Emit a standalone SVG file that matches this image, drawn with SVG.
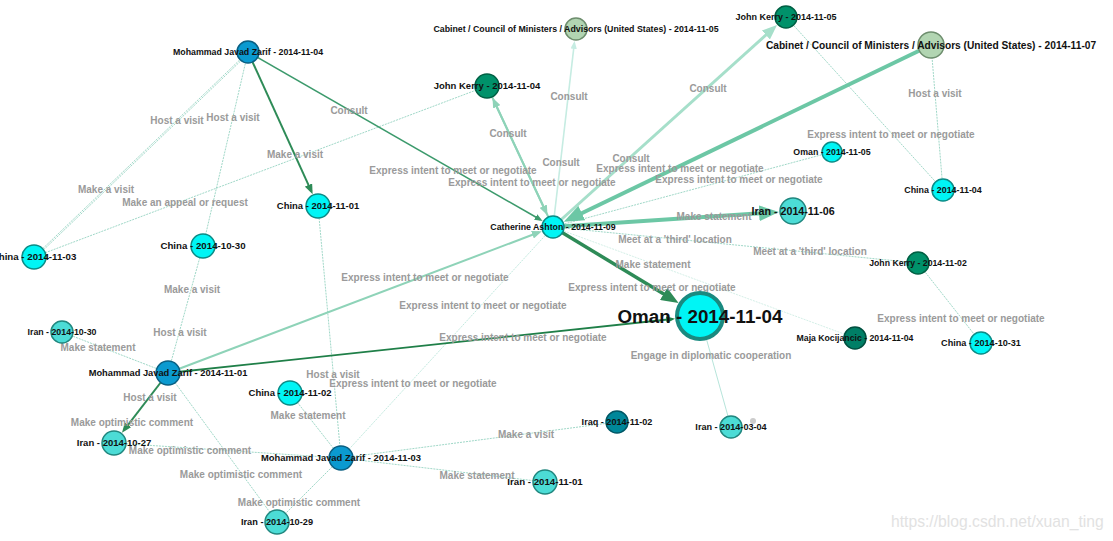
<svg xmlns="http://www.w3.org/2000/svg" width="1113" height="541" viewBox="0 0 1113 541">
<style>
.nl{font-family:"Liberation Sans",Arial,sans-serif;font-weight:bold;fill:#111;text-anchor:middle}
.el{font-family:"Liberation Sans",Arial,sans-serif;font-weight:bold;font-size:10px;fill:#9a9a9a;text-anchor:middle}
.thin{stroke:#86cdb9;stroke-width:0.8;stroke-dasharray:2 1;fill:none}
.e{fill:none}
.cyan{fill:#00f5f5;stroke:#0b8b86;stroke-width:1.5}
.turq{fill:#4cdcd6;stroke:#21877f;stroke-width:1.5}
.blue{fill:#0b9ad0;stroke:#0a5f82;stroke-width:1.5}
.jk{fill:#00916a;stroke:#005f43;stroke-width:1.5}
.cab{fill:#b2d5b2;stroke:#6e8e6e;stroke-width:1.5}
.maja{fill:#007f66;stroke:#004f3f;stroke-width:1.5}
.iraq{fill:#00879a;stroke:#005766;stroke-width:1.5}
</style>
<defs>
<marker id="m1" viewBox="0 0 10 8" refX="7" refY="4" markerWidth="5" markerHeight="4" markerUnits="strokeWidth" orient="auto"><path d="M0,0L10,4L0,8z" fill="#2e8b57"/></marker>
<marker id="m2" viewBox="0 0 10 8" refX="7" refY="4" markerWidth="5" markerHeight="4" markerUnits="strokeWidth" orient="auto"><path d="M0,0L10,4L0,8z" fill="#3c9a6c"/></marker>
<marker id="m3" viewBox="0 0 10 8" refX="7" refY="4" markerWidth="5" markerHeight="4" markerUnits="strokeWidth" orient="auto"><path d="M0,0L10,4L0,8z" fill="#8ed3b8"/></marker>
<marker id="m4" viewBox="0 0 10 8" refX="7" refY="4" markerWidth="5" markerHeight="4" markerUnits="strokeWidth" orient="auto"><path d="M0,0L10,4L0,8z" fill="#c6ece2"/></marker>
<marker id="m5" viewBox="0 0 10 8" refX="7" refY="4" markerWidth="5" markerHeight="4" markerUnits="strokeWidth" orient="auto"><path d="M0,0L10,4L0,8z" fill="#a6dfca"/></marker>
<marker id="m6" viewBox="0 0 10 8" refX="7" refY="4" markerWidth="5" markerHeight="4" markerUnits="strokeWidth" orient="auto"><path d="M0,0L10,4L0,8z" fill="#6cc7a5"/></marker>
<marker id="m8" viewBox="0 0 10 8" refX="7" refY="4" markerWidth="5" markerHeight="4" markerUnits="strokeWidth" orient="auto"><path d="M0,0L10,4L0,8z" fill="#1f7f48"/></marker>
</defs>
<rect width="1113" height="541" fill="#ffffff"/>
<g id="connectors">
<line class="thin" x1="248" y1="52" x2="34" y2="257"/>
<line class="thin" x1="249" y1="53" x2="35" y2="258"/>
<line class="thin" x1="248" y1="52" x2="203" y2="246"/>
<line class="thin" x1="203" y1="246" x2="168" y2="373"/>
<line class="thin" x1="34" y1="257" x2="487" y2="86"/>
<line class="thin" x1="553" y1="227" x2="832" y2="152"/>
<line class="thin" x1="786" y1="17" x2="943" y2="190"/>
<line class="thin" x1="931" y1="45" x2="943" y2="190"/>
<line class="thin" x1="553" y1="227" x2="918" y2="263"/>
<line class="thin" x1="553" y1="227" x2="855" y2="338" style="stroke:#c9ebe1"/>
<line class="thin" x1="918" y1="263" x2="981" y2="343"/>
<line class="thin" x1="700" y1="316" x2="731" y2="427" style="stroke-dasharray:none;stroke:#a3ddd0"/>
<line class="thin" x1="341" y1="458" x2="553" y2="227" style="stroke:#b3e3d6"/>
<line class="thin" x1="318" y1="206" x2="341" y2="458"/>
<line class="thin" x1="341" y1="458" x2="290" y2="393"/>
<line class="thin" x1="62" y1="332" x2="168" y2="373"/>
<line class="thin" x1="114" y1="443" x2="341" y2="458"/>
<line class="thin" x1="168" y1="373" x2="277" y2="522"/>
<line class="thin" x1="341" y1="458" x2="277" y2="522"/>
<line class="thin" x1="341" y1="458" x2="617" y2="422"/>
<line class="thin" x1="341" y1="458" x2="545" y2="482"/>
<line class="e" x1="248" y1="52" x2="311.4" y2="191.4" stroke="#2e8b57" stroke-width="2" marker-end="url(#m1)"/>
<line class="e" x1="248" y1="52" x2="540.5" y2="219.8" stroke="#3c9a6c" stroke-width="1.6" marker-end="url(#m2)"/>
<line class="e" x1="553" y1="227" x2="493.8" y2="100.5" stroke="#8ed3b8" stroke-width="2" marker-end="url(#m3)"/>
<line class="e" x1="487" y1="86" x2="546.2" y2="212.5" stroke="#8ed3b8" stroke-width="2" marker-end="url(#m3)"/>
<line class="e" x1="553" y1="227" x2="574.3" y2="43.3" stroke="#c6ece2" stroke-width="1.6" marker-end="url(#m4)"/>
<line class="e" x1="553" y1="227" x2="773.7" y2="28" stroke="#a6dfca" stroke-width="3" marker-end="url(#m5)"/>
<line class="e" x1="931" y1="45" x2="569.2" y2="219.2" stroke="#6cc7a5" stroke-width="4" marker-end="url(#m6)"/>
<line class="e" x1="553" y1="227" x2="773" y2="212.3" stroke="#6cc7a5" stroke-width="4" marker-end="url(#m6)"/>
<line class="e" x1="553" y1="227" x2="674.1" y2="300.3" stroke="#2e8b57" stroke-width="3.5" marker-end="url(#m1)"/>
<line class="e" x1="168" y1="373" x2="539" y2="232.3" stroke="#8ed3b8" stroke-width="2" marker-end="url(#m3)"/>
<line class="e" x1="168" y1="373" x2="672.5" y2="319" stroke="#1f7f48" stroke-width="1.8" marker-end="url(#m8)"/>
<line class="e" x1="168" y1="373" x2="123.8" y2="430.3" stroke="#2e8b57" stroke-width="2" marker-end="url(#m1)"/>
<text class="el" x="177" y="123.5">Host a visit</text>
<text class="el" x="106" y="192.5">Make a visit</text>
<text class="el" x="233" y="120.5">Host a visit</text>
<text class="el" x="192" y="292.5">Make a visit</text>
<text class="el" x="180" y="335.5">Host a visit</text>
<text class="el" x="185" y="205.5">Make an appeal or request</text>
<text class="el" x="295" y="157.5">Make a visit</text>
<text class="el" x="349" y="113.5">Consult</text>
<text class="el" x="453" y="173.5">Express intent to meet or negotiate</text>
<text class="el" x="508" y="136.5">Consult</text>
<text class="el" x="532" y="185.5">Express intent to meet or negotiate</text>
<text class="el" x="569" y="99.5">Consult</text>
<text class="el" x="561" y="165.5">Consult</text>
<text class="el" x="708" y="91.5">Consult</text>
<text class="el" x="631" y="161.5">Consult</text>
<text class="el" x="680" y="171.5">Express intent to meet or negotiate</text>
<text class="el" x="739" y="182.5">Express intent to meet or negotiate</text>
<text class="el" x="891" y="137.5">Express intent to meet or negotiate</text>
<text class="el" x="935" y="96.5">Host a visit</text>
<text class="el" x="714" y="219.5">Make statement</text>
<text class="el" x="675" y="242.5">Meet at a 'third' location</text>
<text class="el" x="810" y="254.5">Meet at a 'third' location</text>
<text class="el" x="653" y="267.5">Make statement</text>
<text class="el" x="652" y="290.5">Express intent to meet or negotiate</text>
<text class="el" x="961" y="321.5">Express intent to meet or negotiate</text>
<text class="el" x="711" y="358.5">Engage in diplomatic cooperation</text>
<text class="el" x="425" y="280.5">Express intent to meet or negotiate</text>
<text class="el" x="483" y="308.5">Express intent to meet or negotiate</text>
<text class="el" x="413" y="386.5">Express intent to meet or negotiate</text>
<text class="el" x="523" y="340.5">Express intent to meet or negotiate</text>
<text class="el" x="333" y="377.5">Host a visit</text>
<text class="el" x="308" y="418.5">Make statement</text>
<text class="el" x="98" y="350.5">Make statement</text>
<text class="el" x="150" y="400.5">Host a visit</text>
<text class="el" x="132" y="425.5">Make optimistic comment</text>
<text class="el" x="190" y="453.5">Make optimistic comment</text>
<text class="el" x="241" y="477.5">Make optimistic comment</text>
<text class="el" x="299" y="505.5">Make optimistic comment</text>
<text class="el" x="526" y="437.5">Make a visit</text>
<text class="el" x="477" y="478.5">Make statement</text>
</g>
<g id="n-mjz1104"><circle class="blue" cx="248" cy="52" r="11"/><text class="nl" x="248" y="55" font-size="8.8">Mohammad Javad Zarif - 2014-11-04</text></g>
<g id="n-jk1104"><circle class="jk" cx="487" cy="86" r="12"/><text class="nl" x="487" y="89.3" font-size="9.5">John Kerry - 2014-11-04</text></g>
<g id="n-cab1105"><circle class="cab" cx="576" cy="29" r="11"/><text class="nl" x="576" y="32" font-size="8.8">Cabinet / Council of Ministers / Advisors (United States) - 2014-11-05</text></g>
<g id="n-jk1105"><circle class="jk" cx="786" cy="17" r="11"/><text class="nl" x="786" y="20.2" font-size="9">John Kerry - 2014-11-05</text></g>
<g id="n-cab1107"><circle class="cab" cx="931" cy="45" r="13"/><text class="nl" x="931" y="48.6" font-size="10.2">Cabinet / Council of Ministers / Advisors (United States) - 2014-11-07</text></g>
<g id="n-ca1109"><circle class="cyan" cx="553" cy="227" r="11"/><text class="nl" x="553" y="230" font-size="8.8">Catherine Ashton - 2014-11-09</text></g>
<g id="n-oman1105"><circle class="cyan" cx="832" cy="152" r="10"/><text class="nl" x="832" y="155" font-size="8.8">Oman - 2014-11-05</text></g>
<g id="n-china1104"><circle class="cyan" cx="943" cy="190" r="11"/><text class="nl" x="943" y="193" font-size="8.9">China - 2014-11-04</text></g>
<g id="n-iran1106"><circle class="turq" cx="793" cy="211" r="13"/><text class="nl" x="793" y="214.8" font-size="10.7">Iran - 2014-11-06</text></g>
<g id="n-jk1102"><circle class="jk" cx="918" cy="263" r="11"/><text class="nl" x="918" y="266" font-size="8.7">John Kerry - 2014-11-02</text></g>
<g id="n-oman1104"><circle class="cyan" cx="700" cy="316" r="23" style="stroke:#1a8a80;stroke-width:4"/><text class="nl" x="700" y="323" font-size="18.8">Oman - 2014-11-04</text></g>
<g id="n-maja1104"><circle class="maja" cx="855" cy="338" r="11"/><text class="nl" x="855" y="341" font-size="8.7">Maja Kocijancic - 2014-11-04</text></g>
<g id="n-china1031"><circle class="cyan" cx="981" cy="343" r="11"/><text class="nl" x="981" y="346.2" font-size="9.1">China - 2014-10-31</text></g>
<g id="n-iran0304"><circle class="turq" cx="731" cy="427" r="11"/><text class="nl" x="731" y="430.2" font-size="9.1">Iran - 2014-03-04</text></g>
<g id="n-dot"><circle cx="753" cy="421" r="3" fill="#cccccc"/></g>
<g id="n-iraq1102"><circle class="iraq" cx="617" cy="422" r="11"/><text class="nl" x="617" y="425.2" font-size="9.1">Iraq - 2014-11-02</text></g>
<g id="n-iran1101"><circle class="turq" cx="545" cy="482" r="12"/><text class="nl" x="545" y="485.4" font-size="9.7">Iran - 2014-11-01</text></g>
<g id="n-mjz1103"><circle class="blue" cx="341" cy="458" r="12"/><text class="nl" x="341" y="461.3" font-size="9.4">Mohammad Javad Zarif - 2014-11-03</text></g>
<g id="n-iran1029"><circle class="turq" cx="277" cy="522" r="12"/><text class="nl" x="277" y="525.2" font-size="9.2">Iran - 2014-10-29</text></g>
<g id="n-china1102"><circle class="cyan" cx="290" cy="393" r="12"/><text class="nl" x="290" y="396.3" font-size="9.5">China - 2014-11-02</text></g>
<g id="n-iran1027"><circle class="turq" cx="114" cy="443" r="12"/><text class="nl" x="114" y="446.3" font-size="9.5">Iran - 2014-10-27</text></g>
<g id="n-mjz1101"><circle class="blue" cx="168" cy="373" r="12"/><text class="nl" x="168" y="376.3" font-size="9.3">Mohammad Javad Zarif - 2014-11-01</text></g>
<g id="n-iran1030"><circle class="turq" cx="62" cy="332" r="11"/><text class="nl" x="62" y="335" font-size="8.8">Iran - 2014-10-30</text></g>
<g id="n-china1030"><circle class="cyan" cx="203" cy="246" r="12"/><text class="nl" x="203" y="249.4" font-size="9.7">China - 2014-10-30</text></g>
<g id="n-china1103"><circle class="cyan" cx="34" cy="257" r="12"/><text class="nl" x="34" y="260.4" font-size="9.7">China - 2014-11-03</text></g>
<g id="n-china1101"><circle class="cyan" cx="318" cy="206" r="12"/><text class="nl" x="318" y="209.3" font-size="9.45">China - 2014-11-01</text></g>
<text x="891" y="527" font-family="Liberation Sans, Arial, sans-serif" font-size="15.7" fill="#e2e2e2">https://blog.csdn.net/xuan_ting</text>
</svg>
